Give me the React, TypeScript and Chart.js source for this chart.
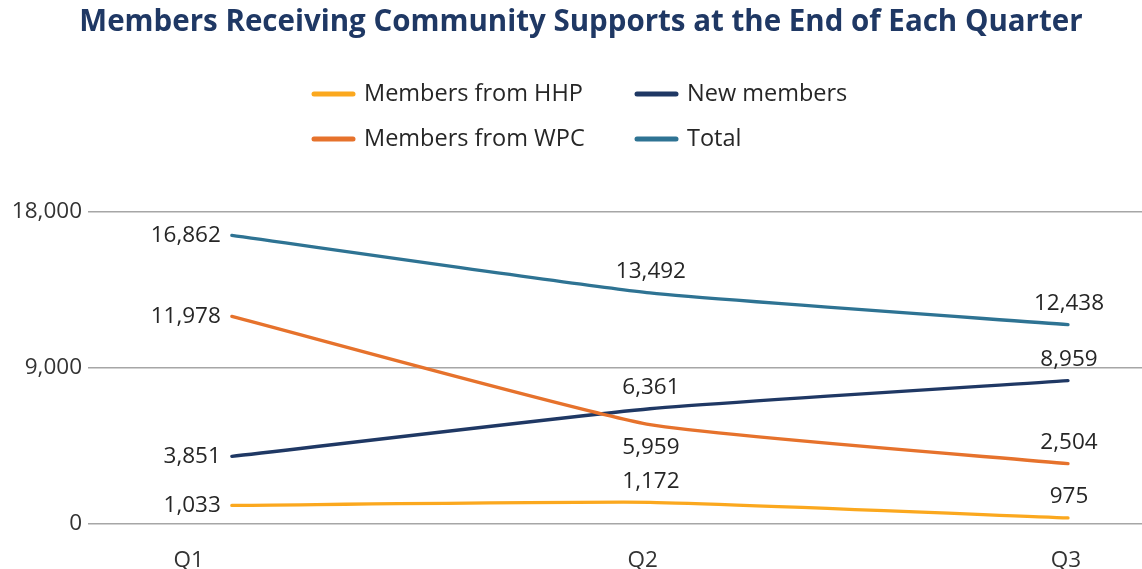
import { useEffect, useRef } from "react";
import { Chart, registerables } from "chart.js";

Chart.register(...registerables);

const TITLE = "Members Receiving Community Supports at the End of Each Quarter";
const quarters = ["Q1", "Q2", "Q3"];
// where each quarter's tick label sits on the category scale
const quarterTickAt = [-0.103, 0.983, 1.995];

// plotted positions (as drawn) and printed data labels
const hhpValues = [1070, 1250, 350];
const hhpLabels = [1033, 1172, 975];
const wpcValues = [11977, 5730, 3480];
const wpcLabels = [11978, 5959, 2504];
const newValues = [3900, 6650, 8270];
const newLabels = [3851, 6361, 8959];
const totalValues = [16650, 13330, 11500];
const totalLabels = [16862, 13492, 12438];

const yTicks = [0, 9000, 18000];

const FONT = "'Open Sans', 'Noto Sans', sans-serif";
const COLORS = {
  hhp: "#FBA81E",
  wpc: "#E6722C",
  nw: "#1F3864",
  total: "#2E7393",
};

type Pos = "left" | "above" | "below";

const series = [
  { label: "Members from HHP", values: hhpValues, texts: hhpLabels, color: COLORS.hhp, pos: ["left", "above", "above"] as Pos[] },
  { label: "Members from WPC", values: wpcValues, texts: wpcLabels, color: COLORS.wpc, pos: ["left", "below", "above"] as Pos[] },
  { label: "New members", values: newValues, texts: newLabels, color: COLORS.nw, pos: ["left", "above", "above"] as Pos[] },
  { label: "Total", values: totalValues, texts: totalLabels, color: COLORS.total, pos: ["left", "above", "above"] as Pos[] },
];

const legendOrder = [0, 2, 1, 3]; // 2x2 grid: HHP, New / WPC, Total

const fmt = (v: number) => v.toLocaleString("en-US");

const decorPlugin = {
  id: "decor",
  afterDraw(chart: any) {
    const ctx = chart.ctx as CanvasRenderingContext2D;
    ctx.save();
    // Title
    ctx.font = `bold 29.5px ${FONT}`;
    ctx.fillStyle = "#1F3864";
    ctx.textAlign = "center";
    ctx.textBaseline = "middle";
    ctx.fillText(TITLE, 581, 23);

    // Legend 2x2
    const colX = [312, 635];
    const rowY = [94, 139];
    ctx.font = `23.5px ${FONT}`;
    ctx.textAlign = "left";
    legendOrder.forEach((si, i) => {
      const s = series[si];
      const x = colX[i % 2];
      const y = rowY[Math.floor(i / 2)];
      ctx.strokeStyle = s.color;
      ctx.lineWidth = 5;
      ctx.lineCap = "round";
      ctx.beginPath();
      ctx.moveTo(x + 2, y);
      ctx.lineTo(x + 41, y);
      ctx.stroke();
      ctx.fillStyle = "#262626";
      ctx.fillText(s.label, x + 52, y);
    });
    ctx.restore();
  },
  afterDatasetsDraw(chart: any) {
    const ctx = chart.ctx as CanvasRenderingContext2D;
    ctx.save();
    ctx.font = `22.5px ${FONT}`;
    ctx.fillStyle = "#262626";
    ctx.textBaseline = "middle";
    series.forEach((s, di) => {
      const meta = chart.getDatasetMeta(di);
      meta.data.forEach((pt: any, i: number) => {
        const text = fmt(s.texts[i]);
        const p = s.pos[i];
        if (p === "left") {
          ctx.textAlign = "right";
          ctx.fillText(text, pt.x - 11, pt.y);
        } else if (p === "above") {
          ctx.textAlign = "center";
          ctx.fillText(text, pt.x + 1, pt.y - 21);
        } else {
          ctx.textAlign = "center";
          ctx.fillText(text, pt.x + 1, pt.y + 23);
        }
      });
    });
    ctx.restore();
  },
};

export default function App() {
  const ref = useRef<HTMLCanvasElement | null>(null);

  useEffect(() => {
    document.body.style.margin = "0";
    const canvas = ref.current;
    if (!canvas) return;
    const chart = new Chart(canvas, {
      type: "line",
      data: {
        datasets: series.map((s) => ({
          label: s.label,
          data: s.values.map((v, i) => ({ x: i, y: v })),
          borderColor: s.color,
          backgroundColor: s.color,
          borderWidth: 3.3,
          pointRadius: 0,
          tension: 0.15,
          fill: false,
          borderCapStyle: "round",
        })),
      },
      options: {
        animation: false,
        responsive: true,
        maintainAspectRatio: false,
        layout: { padding: { top: 212, left: 0, right: 0, bottom: 0 } },
        plugins: {
          legend: { display: false },
          title: { display: false },
          tooltip: { enabled: false },
        },
        scales: {
          x: {
            type: "linear",
            min: -0.344,
            max: 2.177,
            afterBuildTicks: (scale: any) => {
              scale.ticks = quarterTickAt.map((v) => ({ value: v }));
            },
            afterFit: (scale: any) => {
              scale.height = 45;
            },
            grid: { display: false },
            border: { display: false },
            ticks: {
              autoSkip: false,
              maxRotation: 0,
              padding: 15,
              color: "#333333",
              font: { family: FONT, size: 22.5 },
              callback: (_v: any, i: number) => quarters[i] ?? "",
            },
          },
          y: {
            min: 0,
            max: 18000,
            afterBuildTicks: (scale: any) => {
              scale.ticks = yTicks.map((v) => ({ value: v }));
            },
            afterFit: (scale: any) => {
              scale.width = 88;
            },
            grid: { color: "#A6A6A6", lineWidth: 1.5, drawTicks: false },
            border: { display: false },
            ticks: {
              padding: 6,
              color: "#333333",
              font: { family: FONT, size: 22.5 },
              callback: (v: any) => fmt(Number(v)),
            },
          },
        },
      },
      plugins: [decorPlugin],
    });
    return () => chart.destroy();
  }, []);

  return (
    <div style={{ position: "fixed", left: 0, top: 0, width: 1142, height: 569, background: "#fff" }}>
      <canvas ref={ref} />
    </div>
  );
}
